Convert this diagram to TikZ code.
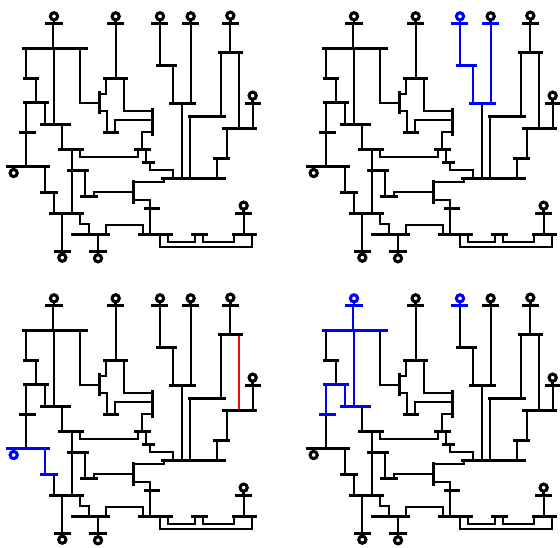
\documentclass[tikz,border=0pt]{standalone}
\usetikzlibrary{backgrounds}
\definecolor{hlblue}{RGB}{0,0,255}
\definecolor{hlred}{RGB}{225,15,15}
\tikzset{
  busbar/.style={shape=rectangle,draw=none,fill,inner sep=0pt,outer sep=0pt},
  gencircle/.style={shape=circle,draw,line width=2.3pt,inner sep=0pt,outer sep=0pt,minimum size=5.4pt},
  conn/.style={line width=1.95pt,line cap=butt,line join=miter},
  hb/.style={color=hlblue},
  hr/.style={color=hlred}
}
\newcommand{\Bus}[4]{\pgfmathsetmacro\myc{(#2+#3)/2}\pgfmathsetmacro\myw{(#3-#2)*0.25}%
  \node[busbar,minimum width=\myw pt,minimum height=2.25pt,#1/.try] (#1) at (\myc,#4+1.5) {};}
\newcommand{\VBus}[4]{\pgfmathsetmacro\myc{(#3+#4)/2}\pgfmathsetmacro\myw{(#4-#3)*0.25}%
  \node[busbar,minimum height=\myw pt,minimum width=2.25pt,#1/.try] (#1) at (#2+1.5,\myc) {};}
\newcommand{\Conn}[2]{\begin{pgfonlayer}{background}\draw[conn,#1/.try] #2;\end{pgfonlayer}}
\newcommand{\VL}[4]{\Conn{#1}{(#2,0 |- #3) -- (#2,0 |- #4)}}
% generator: id, x, y, bus, anchor towards the bus
\newcommand{\Gen}[5]{\node[gencircle,#1/.try] (#1) at (#2,#3) {};
  \Conn{#1}{(#1.#5) -- (#1.#5 |- #4)}}
\newcommand{\Grid}{%
  \Bus{b1}{136}{188}{60}
  \Bus{b2}{67}{263}{135}
  \Bus{b3}{70}{116}{225}
  \Bus{b4}{70}{146}{297}
  \Bus{b5}{57}{107}{387}
  \Bus{b6}{17}{149}{489}
  \Bus{b7}{121}{213}{363}
  \Bus{b8}{175}{253}{438}
  \Bus{b9}{121}{173}{567}
  \Bus{b10}{401}{452}{438}
  \Bus{b11}{147}{251}{630}
  \Bus{b12}{161}{213}{744}
  \Bus{b13}{214}{331}{693}
  \Bus{b14}{268}{320}{744}
  \Bus{b15}{201}{267}{501}
  \Bus{b16}{241}{294}{579}
  \VBus{v1}{399}{530}{602}
  \Bus{b18}{482}{677}{525}
  \Bus{b19}{433}{479}{615}
  \Bus{b20}{414}{518}{693}
  \Bus{b21}{427}{464}{477}
  \VBus{v2}{456}{315}{400}
  \Bus{b27}{309}{385}{225}
  \Bus{b28}{308}{358}{387}
  \Bus{b29}{321}{372}{60}
  \VBus{v3}{297}{264}{334}
  \Bus{b30}{453}{505}{60}
  \Bus{b31}{467}{530}{186}
  \Bus{b24}{507}{589}{300}
  \Bus{b32}{546}{597}{60}
  \Bus{b33}{667}{718}{60}
  \Bus{b34}{653}{729}{147}
  \Bus{b25}{563}{677}{339}
  \Bus{b35}{666}{771}{375}
  \Bus{b36}{734}{784}{300}
  \Bus{b26}{640}{690}{465}
  \Bus{b38}{574}{624}{693}
  \Bus{b37}{695}{771}{693}
  \Bus{b39}{706}{756}{630}
  \Gen{g1}{162}{40}{b1}{south}
  \Gen{g29}{347}{40}{b29}{south}
  \Gen{g30}{480}{40}{b30}{south}
  \Gen{g32}{572}{40}{b32}{south}
  \Gen{g33}{691}{38}{b33}{south}
  \Gen{g36}{758}{278}{b36}{south}
  \Gen{g39}{731}{608}{b39}{south}
  \Gen{g6}{41}{510}{b6}{north}
  \Gen{g12}{187}{764}{b12}{north}
  \Gen{g14}{294}{766}{b14}{north}
  \VL{la}{159}{b1}{b2}
  \VL{lb}{78}{b2}{b3}
  \VL{lc}{162}{b2}{b7}
  \Conn{ld}{(240,0 |- b2) |- (v3 |- 0,300)}
  \VL{le}{108}{b3}{b4}
  \VL{lf}{78}{b4}{b5}
  \VL{lg}{78}{b5}{b6}
  \VL{lh}{135}{b4}{b7}
  \VL{li}{135}{b6}{b9}
  \VL{lj}{186}{b7}{b8}
  \VL{lk}{216}{b8}{b11}
  \Conn{ll}{(240,0 |- b8) -- (240,462) -- (414,462) -- (414,0 |- b10)}
  \VL{lm}{162}{b9}{b11}
  \VL{ln}{186}{b11}{b12}
  \Conn{lo}{(240,0 |- b11) -- (240,663) -- (267,663) -- (267,0 |- b13)}
  \VL{lp}{294}{b13}{b14}
  \Conn{lq}{(318,0 |- b13) -- (318,666) -- (429,666) -- (429,0 |- b20)}
  \VL{lr}{255}{b15}{b16}
  \Conn{ls}{(282,0 |- b16) -- (282,567) -- (v1 |- 0,567)}
  \Conn{lt}{(v1 |- 0,537) -- (492,537) -- (492,0 |- b18)}
  \Conn{lu}{(v1 |- 0,591) -- (450,591) -- (450,0 |- b20)}
  \Conn{lv}{(v2 |- 0,387) -- (426,387) -- (426,0 |- b10)}
  \VL{lw}{438}{b10}{b21}
  \Conn{lx}{(450,0 |- b21) -- (450,501) -- (519,501) -- (519,0 |- b18)}
  \Conn{ly}{(v2 |- 0,324) -- (372,324) -- (372,0 |- b27)}
  \Conn{lz}{(v2 |- 0,351) -- (345,351) -- (345,0 |- b28)}
  \Conn{ma}{(318,0 |- b27) -- (318,273) -- (v3 |- 0,273)}
  \Conn{mb}{(v3 |- 0,324) -- (321,324) -- (321,0 |- b28)}
  \VL{mc}{348}{b29}{b27}
  \VL{md}{480}{b30}{b31}
  \VL{me}{519}{b31}{b24}
  \VL{mf}{573}{b32}{b24}
  \VL{mg}{546}{b24}{b18}
  \VL{mh}{570}{b25}{b18}
  \VL{mi}{651}{b26}{b18}
  \VL{mj}{690}{b33}{b34}
  \VL{mk}{663}{b34}{b25}
  \VL{ml}{717}{b34}{b35}
  \VL{mm}{759}{b36}{b35}
  \VL{mn}{681}{b35}{b26}
  \VL{mo}{732}{b39}{b37}
  \Conn{mp}{(480,0 |- b20) -- (480,732) -- (756,732) -- (756,0 |- b37)}
  \Conn{mq}{(504,0 |- b20) -- (504,717) -- (585,717) -- (585,0 |- b38)}
  \Conn{mr}{(609,0 |- b38) -- (609,717) -- (702,717) -- (702,0 |- b37)}
}
\begin{document}
\begin{tikzpicture}[x=0.25pt,y=-0.25pt]
\useasboundingbox (0,0) rectangle (1680,1644);
\begin{pgfonlayer}{background}\fill[white] (0,0) rectangle (1680,1644);\end{pgfonlayer}
\begin{scope}[name prefix=pa-,shift={(0,9)}]
  \Grid
\end{scope}
\begin{scope}[name prefix=pb-,shift={(900,9)},
  g30/.style={hb},b30/.style={hb},md/.style={hb},b31/.style={hb},me/.style={hb},
  b24/.style={hb},b32/.style={hb},mf/.style={hb}]
  \Grid
\end{scope}
\begin{scope}[name prefix=pc-,shift={(0,855)},
  b6/.style={hb},g6/.style={hb},li/.style={hb},b9/.style={hb},ml/.style={hr}]
  \Grid
\end{scope}
\begin{scope}[name prefix=pd-,shift={(900,855)},
  g1/.style={hb},b1/.style={hb},la/.style={hb},b2/.style={hb},lc/.style={hb},
  b7/.style={hb},lh/.style={hb},b4/.style={hb},lf/.style={hb},b5/.style={hb},
  g30/.style={hb},b30/.style={hb}]
  \Grid
\end{scope}
\end{tikzpicture}
\end{document}
